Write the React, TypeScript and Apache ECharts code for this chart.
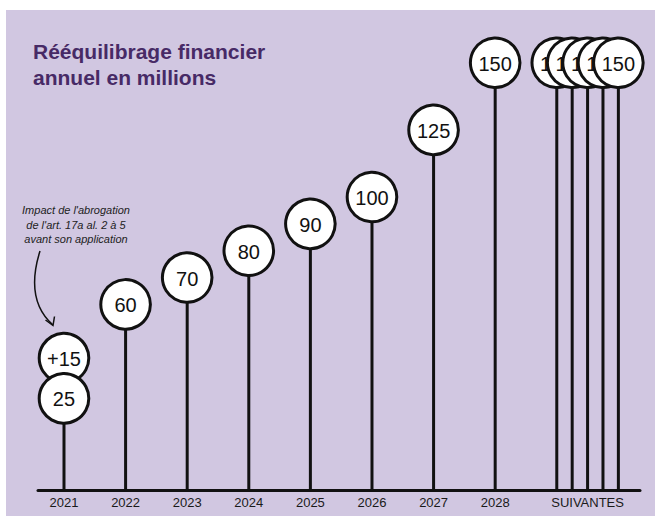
import React, { useEffect, useRef } from "react";
import * as echarts from "echarts";

// ---- Data ----
const categories = ["2021", "2022", "2023", "2024", "2025", "2026", "2027", "2028", "SUIVANTES"];
const yearValues = [25, 60, 70, 80, 90, 100, 125, 150];
const impactValues = [15]; // added on top of 2021
const followingValues = [150, 150, 150, 150, 150];
const titleLines = ["Rééquilibrage financier", "annuel en millions"];
const noteLines = ["Impact de l'abrogation", "de l'art. 17a al. 2 à 5", "avant son application"];

// ---- Layout constants ----
const Y_MIN = -9.12;
const Y_MAX = 160;
const FOLLOW_START = 8;
const FOLLOW_STEP = 0.25;
const BG = "#d1c7e1";
const INK = "#111111";
const FONT = "'Liberation Sans', Arial, Helvetica, sans-serif";

export default function App() {
  const ref = useRef<HTMLDivElement | null>(null);

  useEffect(() => {
    if (!ref.current) return;
    const chart = echarts.init(ref.current, undefined, { renderer: "svg" });

    const followX = followingValues.map((_, j) => FOLLOW_START + j * FOLLOW_STEP);
    const followLabelX = FOLLOW_START + ((followingValues.length - 1) * FOLLOW_STEP) / 2;
    const labelPositions = yearValues.map((_, i) => i).concat([followLabelX]);

    // stems
    const stemData: number[][] = yearValues
      .map((v, i) => [i, v])
      .concat(followingValues.map((v, j) => [followX[j], v]));

    // bubbles (drawn in order)
    const bubbleData: number[][] = [];
    const bubbleLabels: string[] = [];
    impactValues.forEach((inc, i) => {
      bubbleData.push([i, yearValues[i] + inc]);
      bubbleLabels.push("+" + inc);
    });
    yearValues.forEach((v, i) => {
      bubbleData.push([i, v]);
      bubbleLabels.push(String(v));
    });
    followingValues.forEach((v, j) => {
      bubbleData.push([followX[j], v]);
      bubbleLabels.push(String(v));
    });

    const option: any = {
      animation: false,
      backgroundColor: "#ffffff",
      title: {
        text: titleLines.join("\n"),
        left: 33,
        top: 38,
        padding: 0,
        textStyle: {
          fontFamily: FONT,
          fontSize: 21,
          fontWeight: "bold",
          color: "#472a66",
          lineHeight: 26,
        },
      },
      grid: { left: 38, right: 15, top: 35.9, bottom: 26, containLabel: false },
      xAxis: {
        type: "value",
        min: -0.422,
        max: 9.351,
        splitLine: { show: false },
        axisTick: { show: false },
        axisLine: { show: true, onZero: false, lineStyle: { color: INK, width: 3 } },
        axisLabel: {
          customValues: labelPositions,
          margin: 6,
          fontFamily: FONT,
          fontSize: 13,
          color: "#1a1a1a",
          formatter: (val: number) => {
            const idx = labelPositions.findIndex((p) => Math.abs(p - val) < 1e-6);
            return idx >= 0 ? categories[idx] : "";
          },
        },
      },
      yAxis: { type: "value", min: Y_MIN, max: Y_MAX, show: false },
      graphic: [
        {
          type: "rect",
          z: -100,
          shape: { x: 6, y: 10, width: 660, height: 520 },
          style: { fill: BG },
          silent: true,
        },
        {
          type: "text",
          x: 76,
          y: 203,
          style: {
            text: noteLines.join("\n"),
            fontFamily: FONT,
            fontSize: 11,
            fontStyle: "italic",
            lineHeight: 14.5,
            fill: "#222222",
            align: "center",
            verticalAlign: "top",
          },
        },
        {
          type: "bezierCurve",
          shape: { x1: 40, y1: 251, cpx1: 29, cpy1: 286, cpx2: 36, cpy2: 310, x2: 53, y2: 325 },
          style: { stroke: INK, lineWidth: 1.5, fill: "none" },
        },
        {
          type: "polyline",
          shape: { points: [[45.5, 320], [53, 325.5], [54.5, 316.5]] },
          style: { stroke: INK, lineWidth: 1.5, fill: "none" },
        },
      ],
      series: [
        {
          type: "custom",
          coordinateSystem: "cartesian2d",
          data: stemData,
          z: 2,
          renderItem: (params: any, api: any) => {
            const x = api.value(0);
            const v = api.value(1);
            const p0 = api.coord([x, Y_MIN]);
            const p1 = api.coord([x, v]);
            return {
              type: "line",
              shape: { x1: p0[0], y1: p0[1], x2: p1[0], y2: p1[1] },
              style: { stroke: INK, lineWidth: 3 },
            };
          },
        },
        {
          type: "custom",
          coordinateSystem: "cartesian2d",
          data: bubbleData,
          z: 3,
          renderItem: (params: any, api: any) => {
            const p = api.coord([api.value(0), api.value(1)]);
            return {
              type: "group",
              children: [
                {
                  type: "circle",
                  shape: { cx: p[0], cy: p[1], r: 24.8 },
                  style: { fill: "#ffffff", stroke: INK, lineWidth: 3 },
                },
                {
                  type: "text",
                  x: p[0],
                  y: p[1] + 1,
                  style: {
                    text: bubbleLabels[params.dataIndex],
                    fontFamily: FONT,
                    fontSize: 20,
                    fill: INK,
                    align: "center",
                    verticalAlign: "middle",
                  },
                },
              ],
            };
          },
        },
      ],
    };

    chart.setOption(option);
    return () => chart.dispose();
  }, []);

  return (
    <div style={{ position: "fixed", left: 0, top: 0, width: 655, height: 516, background: "#fff" }}>
      <div ref={ref} style={{ width: 655, height: 516 }} />
    </div>
  );
}
